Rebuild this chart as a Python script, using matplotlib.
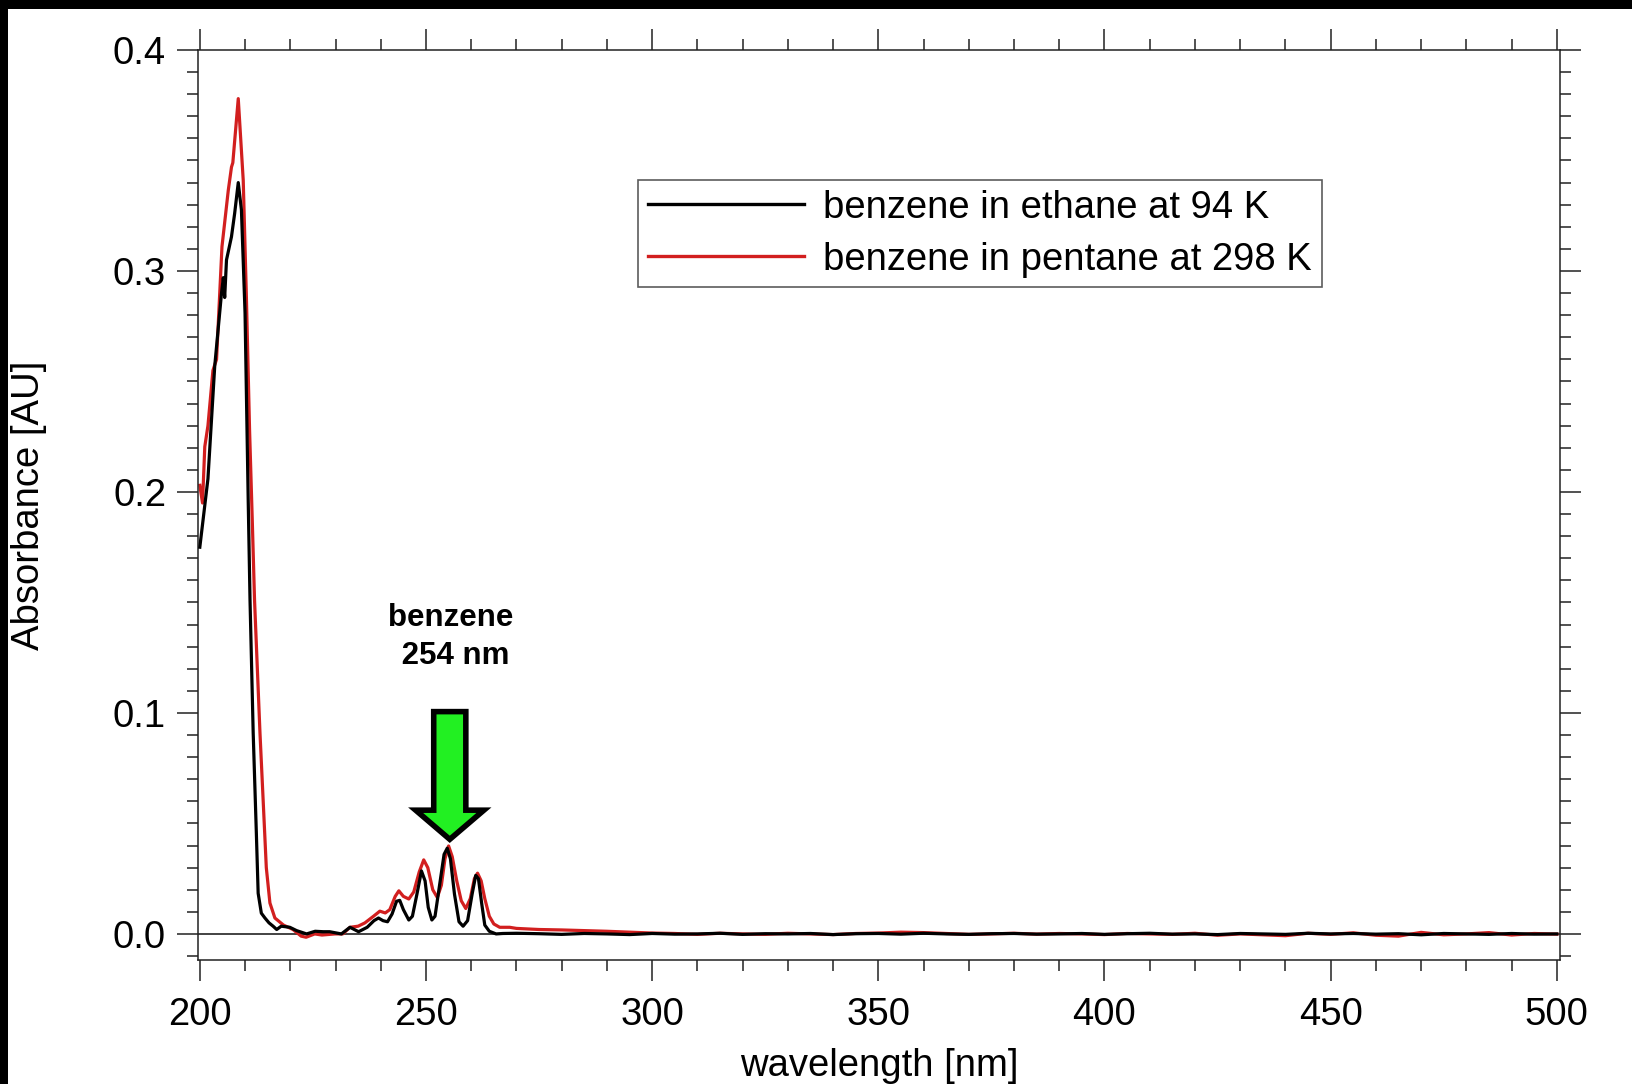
import matplotlib
matplotlib.use("Agg")
import matplotlib.pyplot as plt
from matplotlib.patches import FancyArrow, Rectangle
from matplotlib.ticker import MultipleLocator, FormatStrFormatter

# ---------------- data ----------------
ethane_wl = [200.0, 200.7, 201.8, 203.3, 204.8, 205.2, 205.5, 205.9, 207.0, 207.7,
             208.5, 209.2, 210.0, 210.7, 211.1, 211.8, 212.5, 212.9, 213.6, 214.4,
             215.3, 216.2, 217.0, 218.0, 219.9, 221.4, 223.6, 225.5, 227.3, 228.7,
             231.3, 233.2, 235.1, 237.0, 238.5, 239.5, 240.5, 241.5, 242.5, 243.5,
             244.2, 245.0, 246.2, 247.0, 248.0, 249.0, 249.8, 250.5, 251.3, 252.0,
             253.0, 254.0, 254.7, 255.4, 256.3, 257.3, 258.2, 259.2, 260.2, 261.0,
             261.6, 262.3, 263.0, 264.0, 265.5, 267.0,
             270, 275, 280, 285, 290, 295, 300, 305, 310, 315, 320, 325, 330, 335,
             340, 345, 350, 355, 360, 365, 370, 375, 380, 385, 390, 395, 400, 405,
             410, 415, 420, 425, 430, 435, 440, 445, 450, 455, 460, 465, 470, 475,
             480, 485, 490, 495, 500]
ethane_abs = [0.175, 0.187, 0.206, 0.257, 0.290, 0.297, 0.288, 0.305, 0.3155, 0.326,
              0.340, 0.3276, 0.281, 0.196, 0.151, 0.091, 0.0456, 0.0184, 0.0094, 0.0072,
              0.005, 0.0035, 0.002, 0.0035, 0.003, 0.0015, 0.0, 0.0012, 0.001, 0.001,
              0.0, 0.003, 0.001, 0.003, 0.006, 0.0072, 0.006, 0.0055, 0.009, 0.0148,
              0.0152, 0.011, 0.0063, 0.008, 0.018, 0.0285, 0.024, 0.012, 0.0063, 0.008,
              0.022, 0.036, 0.0388, 0.034, 0.018, 0.0055, 0.0035, 0.006, 0.018, 0.0265,
              0.025, 0.014, 0.004, 0.0012, 0.0, 0.0002,
              0.0003, 0.0001, -0.0002, 0.0002, 0.0, -0.0003, 0.0002, -0.0001, 0.0, 0.0003,
              -0.0002, 0.0001, 0.0, 0.0002, -0.0003, 0.0001, 0.0002, -0.0001, 0.0003, 0.0,
              -0.0002, 0.0001, 0.0002, -0.0001, 0.0, 0.0002, -0.0002, 0.0001, 0.0003, -0.0001,
              0.0, -0.0003, 0.0002, 0.0, -0.0002, 0.0003, 0.0, 0.0002, -0.0001, 0.0001,
              -0.0004, 0.0002, 0.0, -0.0002, 0.0002, -0.0001, 0.0]

pentane_wl = [200.0, 200.6, 201.1, 201.8, 202.9, 203.7, 204.9, 206.3, 207.0, 207.3,
              208.5, 209.6, 210.3, 211.0, 211.6, 212.1, 213.3, 214.0, 214.7, 215.5,
              216.6, 218.5, 220.6, 222.4, 223.5, 225.4, 227.0, 229.9, 231.6, 233.2,
              235.0, 236.5, 238.4, 239.8, 241.0, 242.0, 243.2, 244.0, 245.0, 246.2,
              247.3, 248.5, 249.5, 250.4, 251.5, 252.5, 253.4, 254.2, 255.0, 255.8,
              256.8, 257.8, 258.8, 259.8, 260.7, 261.4, 262.2, 263.0, 264.0, 265.0,
              266.3, 268.5,
              270, 275, 280, 285, 290, 295, 300, 305, 310, 315, 320, 325, 330, 335,
              340, 345, 350, 355, 360, 365, 370, 375, 380, 385, 390, 395, 400, 405,
              410, 415, 420, 425, 430, 435, 440, 445, 450, 455, 460, 465, 470, 475,
              480, 485, 490, 495, 500]
pentane_abs = [0.203, 0.195, 0.2205, 0.230, 0.255, 0.260, 0.311, 0.3366, 0.347, 0.349,
               0.378, 0.341, 0.288, 0.228, 0.187, 0.151, 0.091, 0.0606, 0.030, 0.014,
               0.0072, 0.004, 0.002, -0.001, -0.0015, 0.0, -0.0005, 0.0, 0.0, 0.003,
               0.0035, 0.005, 0.008, 0.0103, 0.0095, 0.011, 0.017, 0.0195, 0.017, 0.0158,
               0.019, 0.028, 0.0335, 0.030, 0.020, 0.0165, 0.022, 0.034, 0.0398, 0.035,
               0.024, 0.015, 0.0115, 0.016, 0.025, 0.0275, 0.024, 0.016, 0.008, 0.0045,
               0.003, 0.003,
               0.0025, 0.002, 0.0018, 0.0015, 0.0012, 0.0008, 0.0004, 0.0002, -0.0002, 0.0003,
               0.0, -0.0002, 0.0003, 0.0, -0.0003, 0.0002, 0.0004, 0.0008, 0.0006, 0.0002,
               -0.0002, 0.0, 0.0003, -0.0001, 0.0002, 0.0, -0.0003, 0.0002, 0.0, -0.0002,
               0.0003, -0.0006, 0.0, -0.0004, -0.0008, 0.0003, -0.0002, 0.0005, -0.0006, -0.001,
               0.0007, -0.0004, 0.0, 0.0006, -0.0005, 0.0002, -0.0001]

series_labels = ["benzene in ethane at 94 K", "benzene in pentane at 298 K"]
annotation_text = "benzene\n 254 nm"
x_label = "wavelength [nm]"
y_label = "Absorbance [AU]"

# ---------------- figure ----------------
plt.rcParams['font.family'] = ['Liberation Sans', 'DejaVu Sans']
W, H = 1632, 1084
fig = plt.figure(figsize=(W / 100, H / 100), dpi=100, facecolor='white')
ax = fig.add_axes([198 / W, 1 - 960 / H, (1560 - 198) / W, (960 - 50) / H])

ink = '#222222'
ax.axhline(0, color=ink, lw=1.2, zorder=1)
ax.plot(ethane_wl, ethane_abs, color='black', lw=2.3, label=series_labels[0], zorder=3,
        solid_joinstyle='round')
ax.plot(pentane_wl, pentane_abs, color='#d21f1f', lw=2.3, label=series_labels[1], zorder=2,
        solid_joinstyle='round')

ax.set_xlim(199.6, 500.7)
ax.set_ylim(-0.0118, 0.4)

ax.xaxis.set_major_locator(MultipleLocator(50))
ax.xaxis.set_minor_locator(MultipleLocator(10))
ax.yaxis.set_major_locator(MultipleLocator(0.1))
ax.yaxis.set_minor_locator(MultipleLocator(0.01))
ax.yaxis.set_major_formatter(FormatStrFormatter('%.1f'))

ax.tick_params(which='both', direction='out', top=True, right=True,
               labeltop=False, labelright=False, color=ink, width=1.1)
ax.tick_params(which='major', length=15, labelsize=27.5, pad=8)
ax.tick_params(axis='x', which='major', pad=11.5)
ax.tick_params(which='minor', length=8)
for s in ax.spines.values():
    s.set_color(ink)
    s.set_linewidth(1.1)

fig.text(29 / W, 1 - 505 / H, y_label, rotation=90, ha='center', va='center', fontsize=27.5)
fig.text(879 / W, 1 - 1066 / H, x_label, ha='center', va='center', fontsize=27.5)

leg = ax.legend(loc='upper left', bbox_to_anchor=(638 / W, 1 - 180 / H),
                bbox_transform=fig.transFigure, borderaxespad=0, fontsize=27.5,
                frameon=True, fancybox=False, handlelength=4.1, handletextpad=0.5,
                borderpad=0.25, labelspacing=0.42)
leg.get_frame().set_edgecolor('#333333')
leg.get_frame().set_linewidth(1.2)
for line in leg.get_lines():
    line.set_linewidth(2.4)

# annotation arrow and label
arrow = FancyArrow(255.26, 0.1006, 0, 0.0428 - 0.1006, width=7.1, head_width=15.1,
                   head_length=0.0132, length_includes_head=True,
                   facecolor='#22f022', edgecolor='black', linewidth=4, joinstyle='miter',
                   zorder=5)
ax.add_patch(arrow)
ax.text(255.5, 0.1345, annotation_text, ha='center', va='center', fontsize=22.5,
        fontweight='bold', linespacing=1.36, multialignment='center')

# black strips at the top and left edge of the picture
fig.patches.append(Rectangle((0, 0), 8 / W, 1, transform=fig.transFigure,
                             facecolor='black', edgecolor='none'))
fig.patches.append(Rectangle((0, 1 - 9 / H), 1, 9 / H, transform=fig.transFigure,
                             facecolor='black', edgecolor='none'))

fig.savefig('out.png', dpi=100, facecolor='white')
